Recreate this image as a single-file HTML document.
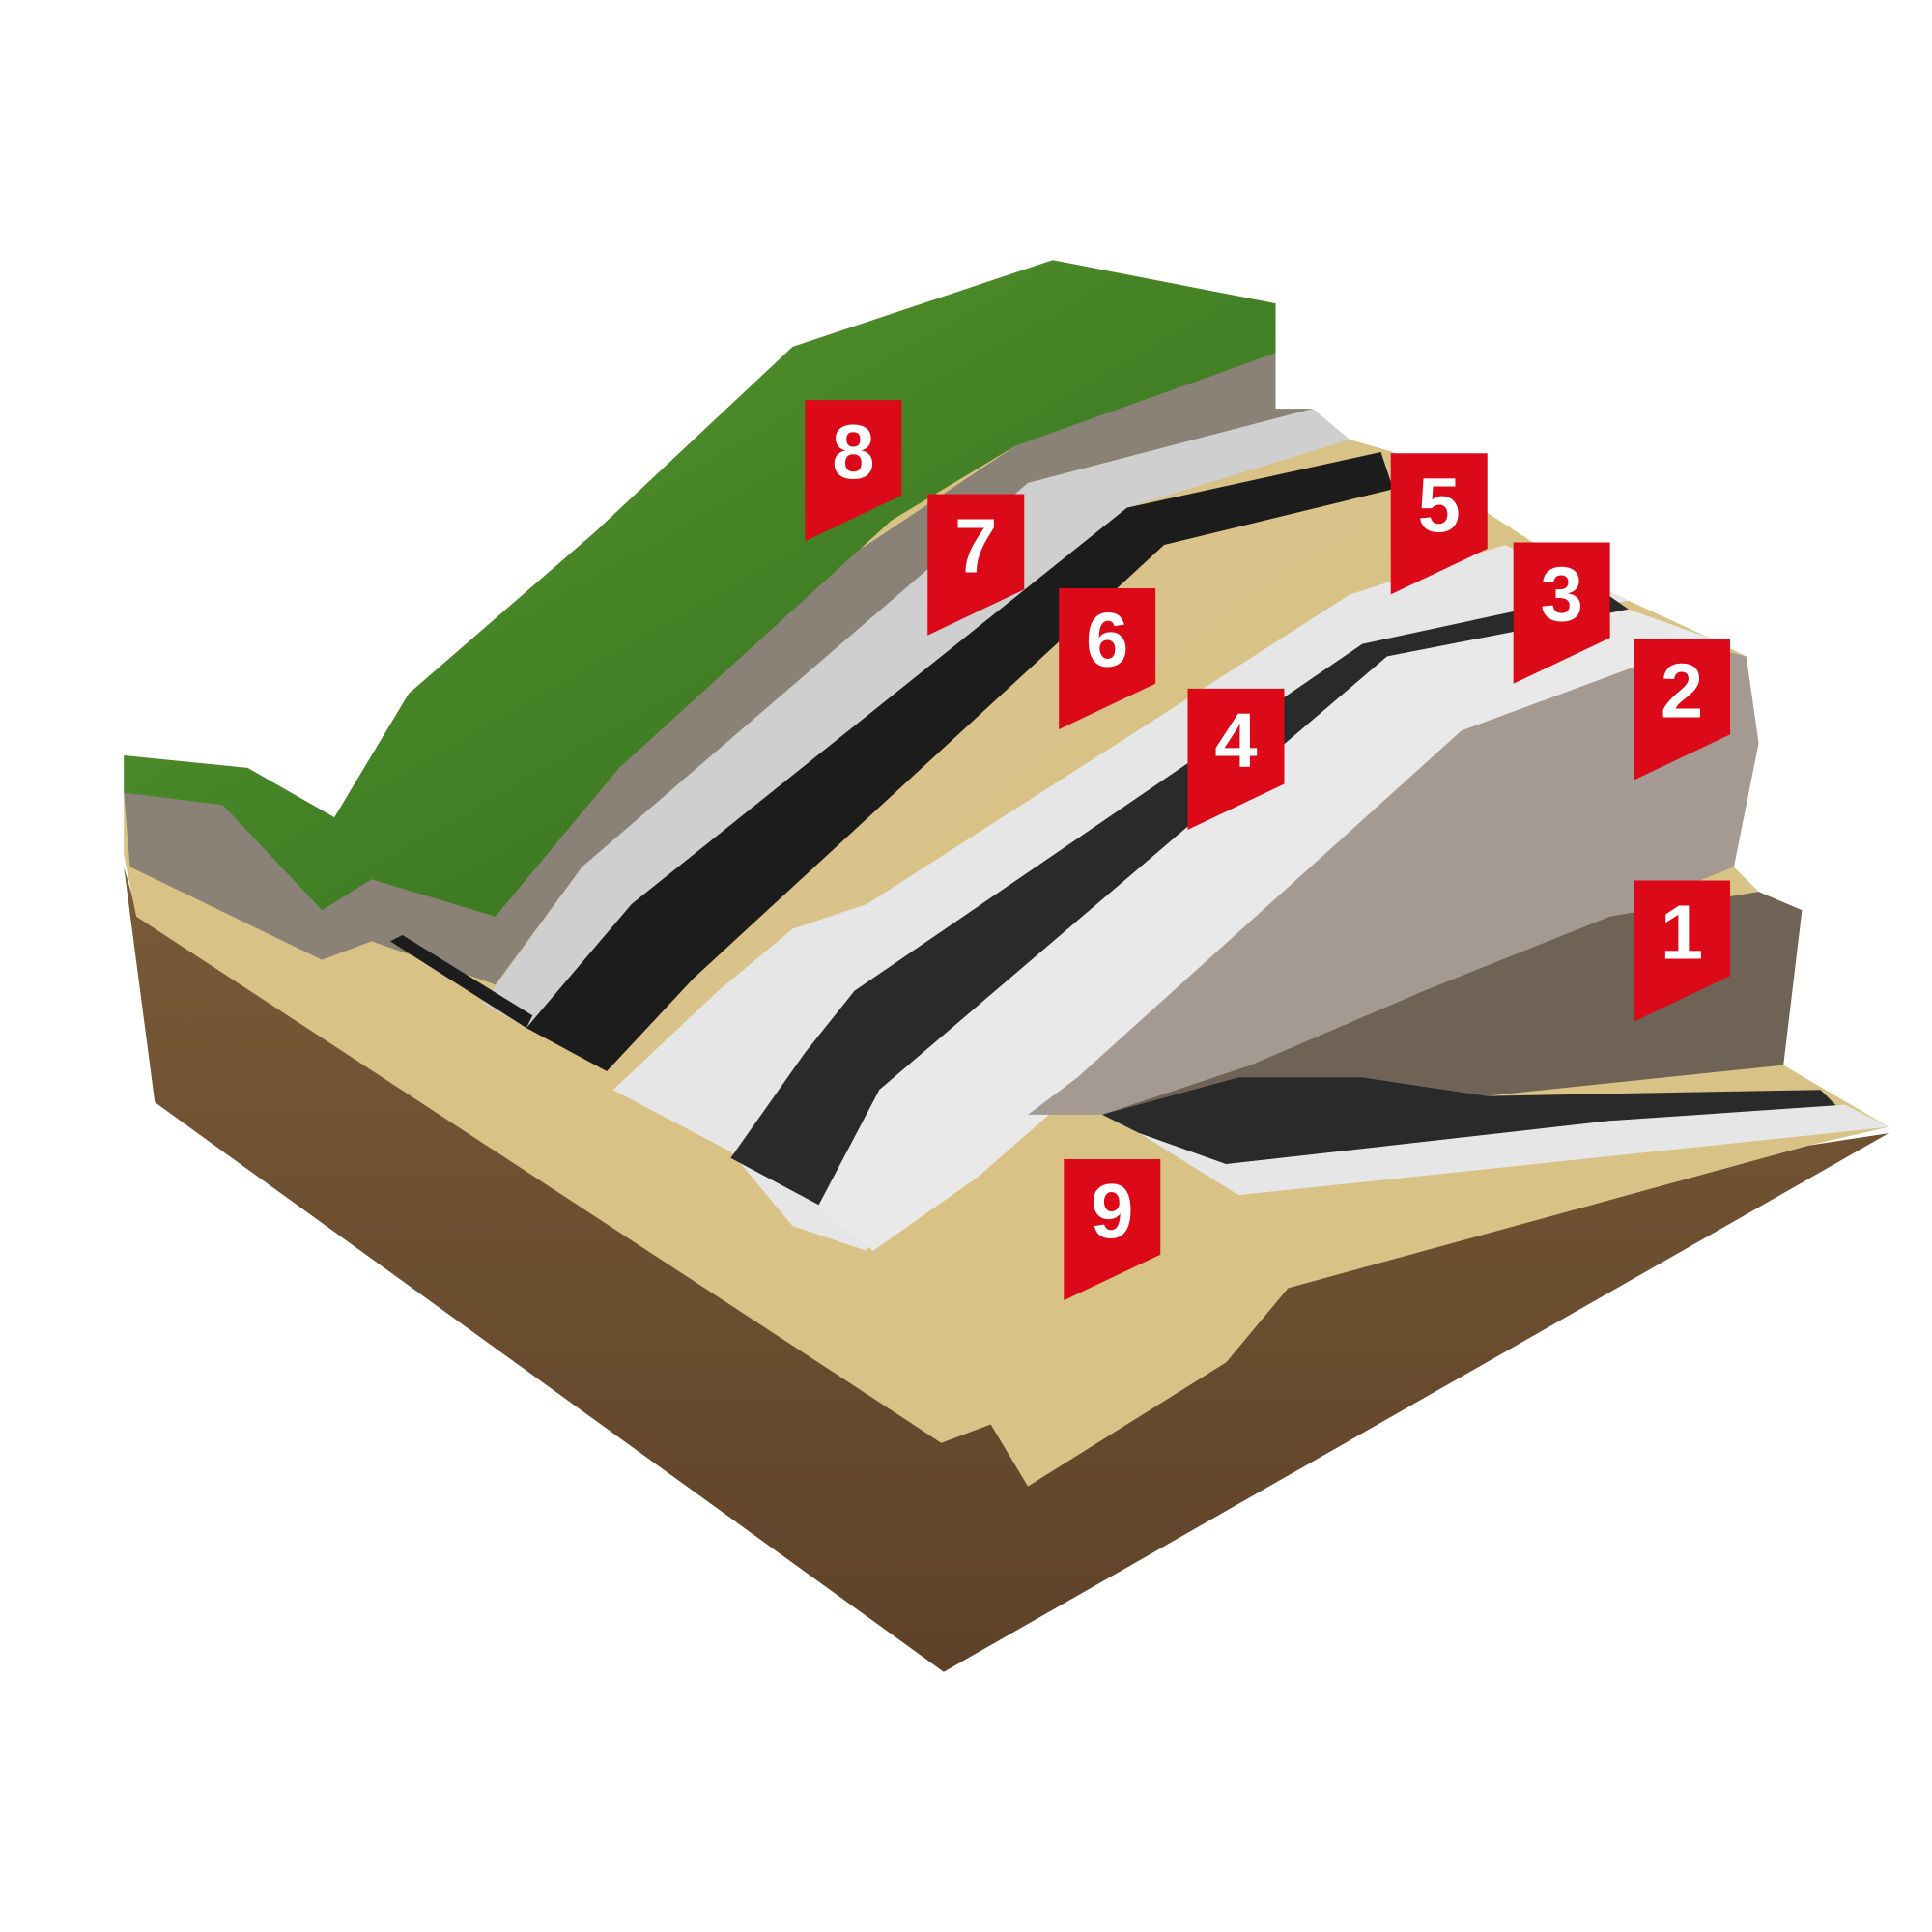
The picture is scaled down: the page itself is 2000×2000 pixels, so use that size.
<!DOCTYPE html>
<html><head><style>html,body{margin:0;padding:0;background:#fff}svg{display:block}</style></head>
<body>
<svg width="2000" height="2000" viewBox="0 0 1560 1560" xmlns="http://www.w3.org/2000/svg">
<defs>
<linearGradient id="soil" x1="0" y1="0" x2="0" y2="1"><stop offset="0" stop-color="#7a5a38"/><stop offset="1" stop-color="#5e4228"/></linearGradient>
<linearGradient id="grass" x1="0" y1="0" x2="1" y2="1"><stop offset="0" stop-color="#5a9a30"/><stop offset="1" stop-color="#2f6a1c"/></linearGradient>
</defs>
<!-- soil -->
<polygon fill="url(#soil)" points="100,700 125,890 762,1350 1525,915 1460,925 1040,1040 990,1100 830,1200 800,1150 760,1165 110,735"/>
<!-- sand base top -->
<polygon fill="#d8c285" points="100,690 100,640 200,625 270,665 330,565 480,435 640,285 1030,285 1030,330 1060,330 1090,355 1125,365 1300,478 1380,515 1410,530 1420,600 1400,700 1420,720 1455,735 1440,860 1525,910 1460,925 1040,1040 990,1100 830,1200 800,1150 760,1165 110,740"/>
<!-- grey subsoil -->
<polygon fill="#8a8276" points="100,640 105,700 260,775 300,760 400,795 470,700 830,390 1060,330 1030,330 1030,280 820,360 700,440 280,680 180,640"/>
<!-- grass -->
<polygon fill="url(#grass)" points="100,610 200,620 270,660 330,560 480,430 640,280 850,210 1030,245 1030,285 820,360 720,420 500,620 400,740 300,710 260,735 180,650 100,640"/>
<!-- geotextile 7 -->
<polygon fill="#cfcfcf" points="390,810 470,700 830,390 1060,330 1090,355 910,410 510,730 425,830"/>
<!-- dimple 6 -->
<polygon fill="#1c1c1c" points="425,830 510,730 910,410 1115,365 1125,395 940,440 560,790 490,865"/>
<polygon fill="#1c1c1c" points="315,760 325,755 430,820 425,830"/>
<!-- sand 5 -->
<polygon fill="#d9c38a" points="490,865 560,790 940,440 1125,395 1130,410 1030,465 680,740 640,745 550,840"/>
<!-- white membrane -->
<polygon fill="#e6e6e6" points="495,880 590,930 640,990 700,1010 760,870 1100,525 1315,485 1215,440 1090,480 700,730 640,750 580,800"/>
<!-- black membrane 4 -->
<polygon fill="#2a2a2a" points="590,935 665,975 710,880 1120,530 1315,492 1295,478 1100,520 690,800 650,850"/>
<!-- white 3 -->
<polygon fill="#e9e9e9" points="660,975 705,1010 790,950 870,880 1185,590 1380,515 1315,492 1120,530 710,880"/>
<!-- gravel 2 -->
<polygon fill="#a49a92" points="830,900 870,870 1180,590 1370,520 1410,530 1420,600 1400,700 1350,720 1100,860 960,900 890,900"/>
<!-- rock 1 -->
<polygon fill="#6e6355" points="890,900 1010,860 1150,800 1300,740 1420,720 1455,735 1440,860 1200,885 1050,880"/>
<!-- bottom strips -->
<polygon fill="#2a2a2a" points="890,900 1000,870 1100,870 1200,885 1470,880 1490,900 1300,905 990,940 920,915"/>
<polygon fill="#e6e6e6" points="920,915 990,940 1300,905 1490,892 1525,910 1000,965"/>
<!-- labels -->
<g font-family="Liberation Sans, sans-serif" font-weight="bold" font-size="62" fill="#fff" text-anchor="middle">
<polygon fill="#dc0a18" points="650,323 728,323 728,400 650,437"/><text x="689" y="386">8</text>
<polygon fill="#dc0a18" points="749,399 827,399 827,476 749,513"/><text x="788" y="462">7</text>
<polygon fill="#dc0a18" points="855,475 933,475 933,552 855,589"/><text x="894" y="538">6</text>
<polygon fill="#dc0a18" points="1123,366 1201,366 1201,443 1123,480"/><text x="1162" y="429">5</text>
<polygon fill="#dc0a18" points="959,556 1037,556 1037,633 959,670"/><text x="998" y="619">4</text>
<polygon fill="#dc0a18" points="1222,438 1300,438 1300,515 1222,552"/><text x="1261" y="501">3</text>
<polygon fill="#dc0a18" points="1319,516 1397,516 1397,593 1319,630"/><text x="1358" y="579">2</text>
<polygon fill="#dc0a18" points="1319,711 1397,711 1397,788 1319,825"/><text x="1358" y="774">1</text>
<polygon fill="#dc0a18" points="859,936 937,936 937,1013 859,1050"/><text x="898" y="999">9</text>
</g>
</svg>
</body></html>
